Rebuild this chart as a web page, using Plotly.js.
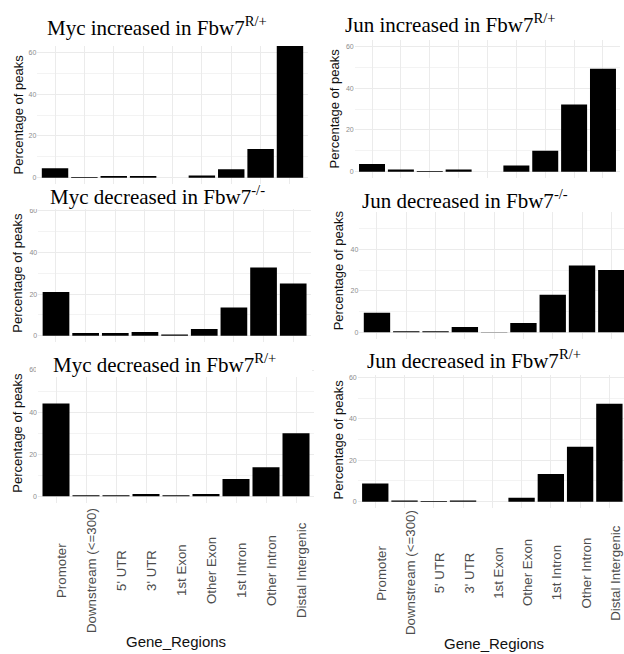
<!DOCTYPE html>
<html>
<head>
<meta charset="utf-8">
<script src="https://cdn.plot.ly/plotly-3.0.1.min.js"></script>
<style>html,body{margin:0;padding:0;background:#fff;}#chart{width:624px;height:654px;}</style>
</head>
<body>
<div id="chart"></div>
<script>
// ---- data ----
const categories = ['Promoter', 'Downstream (<=300)', "5' UTR", "3' UTR", '1st Exon', 'Other Exon', '1st Intron', 'Other Intron', 'Distal Intergenic'];
const mycIncreasedR = [4.5, 0.3, 0.8, 0.8, 0, 1.1, 4.0, 13.7, 63.0];
const junIncreasedR = [3.7, 1.1, 0.3, 1.1, 0, 3.0, 10.0, 32.1, 49.3];
const mycDecreasedKO = [21.0, 1.3, 1.3, 1.8, 0.6, 3.2, 13.6, 32.8, 25.1];
const junDecreasedKO = [9.5, 0.5, 0.5, 2.6, 0.2, 4.5, 18.2, 32.3, 30.2];
const mycDecreasedR = [44.1, 0.5, 0.5, 1.1, 0.5, 1.1, 8.2, 13.8, 29.9];
const junDecreasedR = [8.8, 0.6, 0.3, 0.6, 0, 1.9, 13.3, 26.5, 47.3];
const panelTitles = ['Myc increased in Fbw7', 'Jun increased in Fbw7', 'Myc decreased in Fbw7', 'Jun decreased in Fbw7', 'Myc decreased in Fbw7', 'Jun decreased in Fbw7'];
const panelSups = ['R/+', 'R/+', '-/-', '-/-', 'R/+', 'R/+'];
const yTickVals = [0, 20, 40, 60];
const yTickText = ['0', '20', '40', '60'];
const yTitle = 'Percentage of peaks';
const xTitle = 'Gene_Regions';
const series = [mycIncreasedR, junIncreasedR, mycDecreasedKO, junDecreasedKO, mycDecreasedR, junDecreasedR];

// ---- layout geometry (pixels) ----
const W = 624, H = 654;
const px = v => v / W;
const py = v => 1 - v / H;
const panels = [
  {x: [37.4, 307.6], y: [46.0, 184.0], xr: [-0.6, 8.6], title: [46, 35.7], ytx: 17.5},
  {x: [354.7, 620.3], y: [40.0, 178.0], xr: [-0.6, 8.6], title: [344, 32.0], ytx: 334.5},
  {x: [38.2, 311.0], y: [204.5, 342.0], xr: [-0.6, 8.6], title: [49, 204.0], ytx: 17.5},
  {x: [359.4, 624], y: [202.1, 338.5], xr: [-0.6, 8.433], title: [361, 208.0], ytx: 338},
  {x: [38.0, 314.0], y: [363.7, 502.6], xr: [-0.6, 8.6], title: [52, 372.0], ytx: 17.5},
  {x: [357.7, 624], y: [371.1, 507.9], xr: [-0.6, 8.5], title: [366, 368.0], ytx: 338}
];

const sans = 'Liberation Sans, Arial, sans-serif';
const serif = 'Liberation Serif, Times New Roman, serif';

const data = [];
const layout = {
  width: W, height: H,
  margin: {l: 0, r: 0, t: 0, b: 0},
  paper_bgcolor: '#fff', plot_bgcolor: '#fff',
  showlegend: false,
  bargap: 0.1,
  annotations: [],
  shapes: []
};

panels.forEach((p, i) => {
  const n = i + 1;
  const xa = 'xaxis' + (n === 1 ? '' : n);
  const ya = 'yaxis' + (n === 1 ? '' : n);
  const xr = 'x' + (n === 1 ? '' : n);
  const yr = 'y' + (n === 1 ? '' : n);
  data.push({
    type: 'bar', x: categories, y: series[i], xaxis: xr, yaxis: yr,
    marker: {color: '#000', line: {width: 0}}, hoverinfo: 'x+y'
  });
  layout[xa] = {
    domain: [px(p.x[0]), px(p.x[1])], anchor: yr, type: 'category',
    range: p.xr, showgrid: true, gridcolor: '#ebebeb', gridwidth: 1,
    showticklabels: false, ticks: '', zeroline: false, showline: false, fixedrange: true
  };
  layout[ya] = {
    domain: [py(p.y[1]), py(p.y[0])], anchor: xr, range: [-3, 63],
    tickvals: yTickVals, ticktext: yTickText, ticks: '',
    tickfont: {family: sans, size: 7, color: '#8c8c8c'},
    showgrid: true, gridcolor: '#ebebeb', gridwidth: 1,
    minor: {tickvals: [10, 30, 50], showgrid: true, gridcolor: '#f3f3f3', gridwidth: 1},
    zeroline: false, showline: false, fixedrange: true
  };
  // y title
  layout.annotations.push({
    xref: 'paper', yref: 'paper', x: px(p.ytx), y: py((p.y[0] + p.y[1]) / 2),
    text: yTitle, textangle: -90, showarrow: false, xanchor: 'center', yanchor: 'middle',
    font: {family: sans, size: 13, color: '#111'}
  });
});

// white masks (panels overlap like stacked cut-outs)
const masks = [
  [0, 185, 312, 209],
  [342, 180, 624, 212],
  [36, 344, 312, 377],
  [356, 340, 624, 375]
];
masks.forEach(m => layout.shapes.push({
  type: 'rect', xref: 'paper', yref: 'paper', layer: 'above',
  x0: px(m[0]), x1: px(m[2]), y0: py(m[3]), y1: py(m[1]),
  fillcolor: '#fff', line: {width: 0}
}));

// panel titles
panels.forEach((p, i) => {
  layout.annotations.push({
    xref: 'paper', yref: 'paper', x: px(p.title[0]), y: py(p.title[1] + 5.5),
    xanchor: 'left', yanchor: 'bottom', showarrow: false, borderpad: 0,
    text: panelTitles[i] + '<sup>' + panelSups[i] + '</sup>',
    font: {family: serif, size: 21, color: '#000'}
  });
});

// bottom category labels (centered, rotated) and x titles
[[5, 570.5, 641, 176], [6, 573, 643, 493.5]].forEach(([n, yc, yt, xt]) => {
  categories.forEach(c => {
    layout.annotations.push({
      xref: 'x' + n, yref: 'paper', x: c, y: py(yc), xshift: 5.5,
      text: c.replace(/</g, '&lt;'), textangle: -90, showarrow: false,
      xanchor: 'center', yanchor: 'middle',
      font: {family: sans, size: 13.3, color: '#4d4d4d'}
    });
  });
  layout.annotations.push({
    xref: 'paper', yref: 'paper', x: px(xt), y: py(yt),
    text: xTitle, showarrow: false, xanchor: 'center', yanchor: 'middle',
    font: {family: sans, size: 15, color: '#111'}
  });
});

Plotly.newPlot('chart', data, layout, {displayModeBar: false, staticPlot: true});
</script>
</body>
</html>
